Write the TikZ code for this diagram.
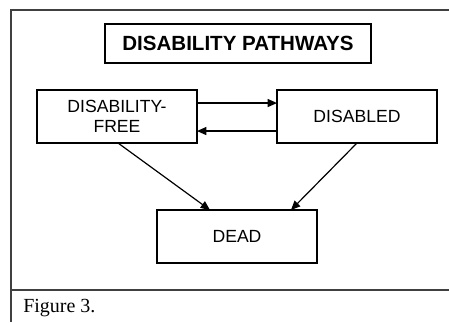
\documentclass[tikz,border=0pt]{standalone}
\usepackage{fontspec}
\setmainfont{Liberation Serif}
\setsansfont{Liberation Sans}
\usetikzlibrary{arrows.meta}
\begin{document}
\begin{tikzpicture}[x=0.75pt,y=-0.75pt,
  state/.style={draw=black,line width=0.9pt,inner sep=0pt,outer sep=0pt,
    minimum width=120pt,minimum height=39.75pt,align=center,
    font=\sffamily\fontsize{13.2pt}{15pt}\selectfont},
  titlebox/.style={draw=black,line width=0.9pt,inner sep=0pt,outer sep=0pt,
    minimum width=199.5pt,minimum height=29.25pt,
    font=\sffamily\bfseries\fontsize{15.4pt}{17pt}\selectfont},
  conn/.style={line width=0.9pt,-{Triangle[length=7pt,width=6pt]}},
  frame/.style={draw=black!75,line width=1.2pt}]
\useasboundingbox (0,0) rectangle (449,322);
\coordinate (tl) at (11,10);
\coordinate (tr) at (449,10);
\coordinate (bl) at (11,322);
\coordinate (ml) at (11,290);
\coordinate (mr) at (449,290);
\draw[frame] (tr) -- (tl) -- (bl);
\draw[frame] (ml) -- (mr);
\node[titlebox] (title) at (238,43.5) {DISABILITY PATHWAYS};
\node[state] (df) at (117,116.5) {DISABILITY-\\FREE};
\node[state] (dis) at (357,116.5) {DISABLED};
\node[state] (dead) at (237,236.5) {DEAD};
\draw[conn] ([yshift=10.1pt]df.east) -- ([yshift=10.1pt]dis.west);
\draw[conn] ([yshift=-10.9pt]dis.west) -- ([yshift=-10.9pt]df.east);
\draw[conn] ([xshift=0.75pt]df.south) -- ([xshift=-20.25pt]dead.north);
\draw[conn] (dis.south) -- ([xshift=40.5pt]dead.north);
\node[anchor=base west,inner sep=0pt,font=\fontsize{15pt}{17pt}\selectfont] (cap) at (23,312) {Figure 3.};
\end{tikzpicture}
\end{document}
